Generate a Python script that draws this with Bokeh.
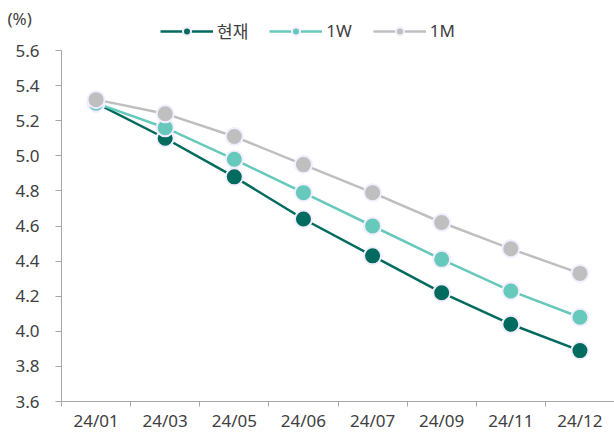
from bokeh.plotting import figure
from bokeh.models import (ColumnDataSource, FixedTicker, Legend, LegendItem,
                          Label, Range1d, CustomJSTickFormatter)
from bokeh.embed import file_html
from bokeh.resources import INLINE

# Rate path by contract month (%)
months = ["24/01", "24/03", "24/05", "24/06", "24/07", "24/09", "24/11", "24/12"]
now_vals = [5.30, 5.10, 4.88, 4.64, 4.43, 4.22, 4.04, 3.89]
w1_vals = [5.30, 5.16, 4.98, 4.79, 4.60, 4.41, 4.23, 4.08]
m1_vals = [5.32, 5.24, 5.11, 4.95, 4.79, 4.62, 4.47, 4.33]
series_names = ["현재", "1W", "1M"]
y_ticks = [3.6, 3.8, 4.0, 4.2, 4.4, 4.6, 4.8, 5.0, 5.2, 5.4, 5.6]
y_lo, y_hi = 3.6, 5.6

colors = ["#006B5E", "#66C9BC", "#BFBFBF"]
FONT = "Noto Sans, Noto Sans CJK KR, sans-serif"
TXT = "#404040"
AXIS = "#A6A6A6"

W, H = 614, 434
AX_LEFT, AX_TOP, AX_BOTTOM = 61, 50, 33   # room for labels, legend and unit

# each month sits in the middle of its own slot on a numeric axis
n = len(months)
xpos = [i + 0.5 for i in range(n)]

# the frame covers the whole canvas; the ranges are padded so the data area
# keeps room for the axis labels, the unit caption and the legend
px_per_x = (W - AX_LEFT) / n
px_per_y = (H - AX_BOTTOM - AX_TOP) / (y_hi - y_lo)
x_range = Range1d(-AX_LEFT / px_per_x, n)
y_range = Range1d(y_lo - AX_BOTTOM / px_per_y, y_hi + AX_TOP / px_per_y)

p = figure(width=W, height=H, output_backend="svg", toolbar_location=None,
           x_range=x_range, y_range=y_range,
           min_border_left=0, min_border_right=0, min_border_top=0,
           min_border_bottom=0)
p.outline_line_color = None
p.xgrid.grid_line_color = None
p.ygrid.grid_line_color = None
p.background_fill_color = "white"
p.border_fill_color = "white"

# x axis: labels at slot centres, tick marks on slot boundaries
xa = p.xaxis[0]
xa.fixed_location = y_lo
xa.bounds = (0, n)
xa.ticker = FixedTicker(ticks=xpos, minor_ticks=list(range(n + 1)))
xa.major_label_overrides = {x: m for x, m in zip(xpos, months)}
xa.major_tick_out = 0
xa.major_tick_in = 0
xa.minor_tick_out = 5
xa.minor_tick_in = 0
xa.minor_tick_line_color = AXIS
xa.axis_line_color = AXIS
xa.major_label_standoff = 2
xa.major_label_text_font = FONT
xa.major_label_text_font_size = "17px"
xa.major_label_text_color = TXT

ya = p.yaxis[0]
ya.fixed_location = 0
ya.bounds = (y_lo, y_hi)
ya.ticker = FixedTicker(ticks=y_ticks)
ya.formatter = CustomJSTickFormatter(code="return tick.toFixed(1);")
ya.major_tick_out = 6
ya.major_tick_in = 0
ya.minor_tick_line_color = None
ya.major_tick_line_color = AXIS
ya.axis_line_color = AXIS
ya.major_label_standoff = 16
ya.major_label_text_font = FONT
ya.major_label_text_font_size = "17px"
ya.major_label_text_color = TXT

items = []
for name, vals, col in zip(series_names, [now_vals, w1_vals, m1_vals], colors):
    src = ColumnDataSource(dict(x=xpos, y=vals))
    ln = p.line("x", "y", source=src, line_color=col, line_width=2.5)
    sc = p.scatter("x", "y", source=src, size=17, fill_color=col,
                   line_color="#F3EEFF", line_width=2)
    items.append(LegendItem(label=name, renderers=[ln, sc]))

legend = Legend(items=items, orientation="horizontal",
                location=(160, H - 43),
                border_line_color=None, background_fill_alpha=0,
                padding=0, margin=0, spacing=21, label_standoff=4,
                glyph_width=53, glyph_height=20,
                label_text_font=FONT, label_text_font_size="17px",
                label_text_color=TXT)
p.add_layout(legend, "center")

# unit caption in the top-left corner
p.add_layout(Label(x=7, y=H - 18, x_units="screen",
                   y_units="screen", text="(%)", text_font=FONT,
                   text_font_size="17px", text_color=TXT,
                   text_baseline="middle"))

open("out.html", "w").write(file_html(p, INLINE))
